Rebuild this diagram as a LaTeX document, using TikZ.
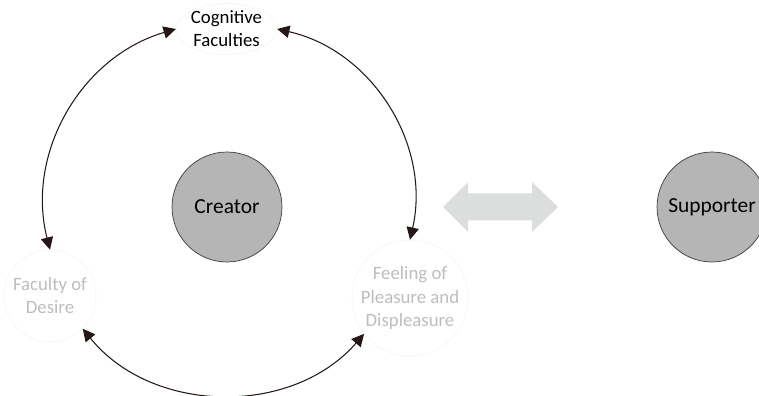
\documentclass[tikz,border=0pt]{standalone}
\usepackage{fontspec}
\setmainfont{Carlito}
\usetikzlibrary{arrows.meta,shapes.geometric}
\definecolor{arrowline}{HTML}{231815}
\definecolor{discfill}{HTML}{B5B5B5}
\definecolor{discline}{HTML}{3E3A39}
\definecolor{faded}{HTML}{BDBDBD}
\definecolor{faint}{HTML}{F5F5F5}
\definecolor{exchange}{HTML}{DCDDDD}

\begin{document}
\begin{tikzpicture}[x=0.02cm, y=0.02cm, >={Triangle[length=7pt,width=7pt]},
    disc/.style={circle, draw=discline, fill=discfill, minimum size=2.2cm, inner sep=0pt,
        font=\fontsize{12.2}{14}\selectfont},
    faculty/.style={circle, draw=faint, inner sep=0pt, align=center,
        font=\fontsize{10.7}{13.1}\selectfont},
    turn/.style={<->, color=arrowline, line width=0.6pt}]
    \useasboundingbox (0,0) rectangle (759,395);

    % Persons
    \node[disc] (creator) at (227,188) {Creator};
    \node[disc] (supporter) at (712,188) {Supporter};

    % Faculties
    \node[faculty, ellipse, minimum width=1.98cm, minimum height=0.96cm] (cog) at (226.5,366) {Cognitive\\Faculties};
    \node[faculty, minimum size=1.84cm, text=faded] (desire) at (50,99) {Faculty of\\Desire};
    \node[faculty, minimum size=2.08cm, text=faded] (feeling) at (410,97) {Feeling of\\Pleasure and\\Displeasure};

    % Arcs round the creator
    \draw[turn] (cog.west) to[bend right=44] (desire.north);
    \draw[turn] (cog.east) to[bend left=45] (feeling.north);
    \draw[turn] (desire.-45) to[bend right=50] (feeling.218);

    % Exchange
    \fill[exchange] (443,188) -- (468,213) -- (468,201.5) -- (532,201.5) -- (532,213) -- (558,188)
        -- (532,163) -- (532,174.5) -- (468,174.5) -- (468,163) -- cycle;
\end{tikzpicture}
\end{document}
